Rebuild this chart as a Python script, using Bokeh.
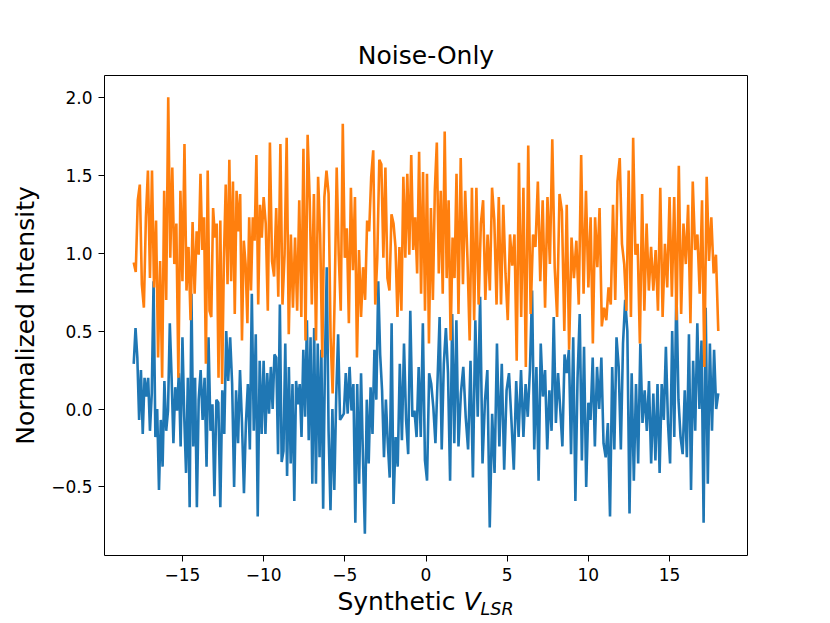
import numpy as np
from bokeh.plotting import figure
from bokeh.models import Range1d, FixedTicker, CustomJSTickFormatter, Div
from bokeh.layouts import column
from bokeh.embed import file_html
from bokeh.resources import INLINE

# ---------------- data ----------------
title_text = "Noise-Only"
x_label_main = "Synthetic"
x_label_var = "V"
x_label_sub = "LSR"
y_label_text = "Normalized Intensity"
x_ticks = [-15, -10, -5, 0, 5, 10, 15]
y_ticks = [-0.5, 0.0, 0.5, 1.0, 1.5, 2.0]

# the velocity axis was read in 9 windows of 4 km/s each
segment_edges = [-18, -14, -10, -6, -2, 2, 6, 10, 14, 18]

# first series (blue), one list per window
blue_w1 = [0.29, 0.52, 0.33, -0.07, 0.25, -0.16, 0.20, 0.08, 0.20, -0.14, 0.10, 0.82,
           -0.18, 0.00, -0.52, -0.07, -0.37, 0.18, -0.14, -0.01, 0.55, 0.20, -0.22,
           0.14, -0.01, 0.23, -0.24, 0.46, -0.05, -0.41, 0.20, -0.63, 0.74, -0.24,
           0.20, -0.63]
blue_w2 = [0.06, 0.25, -0.07, 0.20, -0.37, 0.46, -0.14, 0.03, -0.56, 0.06, 0.04, -0.63,
           0.12, -0.16, 0.50, 0.18, 0.46, 0.16, -0.50, 0.12, -0.22, 0.25, -0.09, -0.54,
           -0.09, 0.16, -0.26, 0.74, -0.14, 0.48, -0.69, 0.31, -0.16]
blue_w3 = [0.31, -0.16, 0.23, -0.03, 0.27, 0.00, 0.35, 0.33, -0.29, 0.67, -0.34, -0.27,
           0.42, -0.43, 0.27, -0.35, 0.16, -0.59, 0.18, 0.03, 0.16, -0.18, 0.38, -0.05,
           0.57, -0.20, 0.46, -0.48, 0.52, -0.48, 0.42, -0.31, 0.38, -0.64, 0.31, 0.91]
blue_w4 = [-0.14, -0.65, 0.00, -0.52, 0.08, 0.48, -0.07, -0.05, -0.03, 0.23, -0.03,
           0.27, -0.01, 0.16, -0.73, 0.16, -0.48, 0.23, -0.31, -0.80, 0.06, -0.35,
           0.14, -0.16, 0.38, 0.06, 0.82, 0.35, 0.12, -0.31, 0.06, -0.22, -0.44, 0.55]
blue_w5 = [-0.61, -0.18, -0.37, 0.29, -0.20, 0.42, -0.07, -0.29, 0.63, -0.05, -0.01,
           -0.18, 0.27, -0.18, 0.55, -0.33, -0.46, 0.23, 0.16, 0.01, -0.22, 0.18, 0.59,
           -0.26, 0.29, 0.52, 0.23, -0.46, 0.61, -0.22, 0.57]
blue_w6 = [-0.24, 0.10, 0.27, -0.05, -0.26, 0.31, -0.44, 0.57, -0.05, 0.72, -0.35,
           0.05, 0.25, -0.76, -0.03, -0.41, 0.42, -0.24, 0.29, -0.39, 0.12, 0.23,
           -0.07, -0.39, 0.18, -0.18, 0.25]
blue_w7 = [-0.18, 0.16, -0.05, 0.25, 0.76, -0.26, 0.27, -0.46, 0.42, 0.08, 0.25, -0.26,
           0.12, -0.14, 0.59, -0.09, 0.23, 0.00, -0.24, 0.35, 0.23, 0.38, -0.29, 0.46,
           -0.59, 0.20, 0.61, -0.33, 0.40, -0.50]
blue_w8 = [0.04, -0.07, 0.33, -0.24, 0.27, 0.00, 0.33, -0.22, -0.31, -0.09, -0.69,
           0.27, -0.26, 0.46, 0.27, -0.26, 0.42, 0.70, 0.50, -0.67, 0.23, -0.46, 0.16,
           -0.35, 0.42, -0.09, 0.12, -0.14, 0.18, -0.35]
blue_w9 = [0.10, -0.33, 0.16, -0.41, 0.16, -0.07, 0.40, -0.09, -0.35, 0.50, -0.18,
           0.78, 0.06, -0.18, -0.29, 0.12, -0.31, 0.48, -0.52, 0.31, -0.14, 0.55, 0.00,
           0.44, -0.73, 0.65, -0.48, 0.42, -0.14, 0.38, 0.00, 0.10]

# second series (orange), one list per window
orange_w1 = [0.94, 0.88, 1.34, 1.44, 0.80, 0.65, 1.23, 1.53, 0.84, 1.53, 0.78, 1.21, 0.33,
             0.95, 0.20, 1.40, 0.70, 2.00, 0.97, 1.55, 0.93, 1.19, 0.20, 1.40, 0.82, 1.70,
             0.76, 1.04, 0.57, 1.20, 0.74, 1.14]
orange_w2 = [0.99, 1.51, 1.02, 1.23, 0.29, 1.53, 0.63, 0.59, 1.29, 1.10, 1.19, 0.20, 1.21,
             0.16, 0.97, 1.44, 0.80, 1.60, 0.82, 1.46, 0.61, 1.40, 1.14, 1.38, 0.44, 1.08,
             0.93, 0.55, 1.23, 0.76, 1.23, 1.08, 1.63, 0.67, 1.31, 1.10]
orange_w3 = [1.36, 1.19, 0.63, 1.71, 0.95, 0.85, 1.29, 0.72, 1.70, 0.67, 0.99, 1.74, 0.48,
             1.12, 0.65, 1.10, 0.63, 1.34, 0.59, 1.67, 0.44, 1.76, 1.34, 0.67, 1.38, 0.44,
             1.49, 1.12, 0.33, 1.36, 1.53]
orange_w4 = [1.38, 0.46, 0.10, 0.72, 1.55, 0.99, 0.63, 1.83, 0.97, 1.16, 0.55, 1.42, 0.89,
             1.36, 0.33, 1.02, 0.59, 0.91, 0.70, 1.21, 1.14, 1.49, 1.66, 0.67, 0.97, 1.60,
             1.57, 0.97, 1.55, 0.84, 0.76, 1.25]
orange_w5 = [1.19, 1.04, 0.59, 1.04, 0.63, 1.49, 0.97, 1.51, 0.99, 1.63, 1.02, 1.23, 0.87,
             1.65, 0.74, 1.52, 0.63, 1.51, 0.42, 1.29, 0.70, 1.41, 1.71, 0.87, 1.40, 0.74,
             1.78, 0.84, 1.34, 0.44, 1.10, 0.84, 1.51]
orange_w6 = [0.61, 1.61, 0.80, 1.40, 0.97, 0.44, 1.42, 0.57, 1.42, 0.67, 1.19, 1.34, 0.70,
             1.12, 0.76, 1.42, 1.21, 0.67, 1.36, 0.67, 1.31, 0.87, 0.57, 1.12, 0.92, 1.12,
             0.31, 1.58, 0.59]
orange_w7 = [1.42, 0.27, 1.69, 0.61, 1.12, 1.04, 1.46, 0.82, 1.34, 0.65, 1.36, 0.93, 1.73,
             0.91, 0.59, 1.38, 1.27, 0.50, 1.31, 0.38, 1.10, 0.84, 1.08, 0.67, 1.63, 0.74,
             1.40]
orange_w8 = [0.78, 1.23, 0.42, 1.23, 0.91, 1.29, 0.53, 0.65, 0.57, 0.78, 0.67, 1.31, 0.70,
             1.46, 1.61, 1.06, 0.93, 0.63, 1.53, 0.59, 1.74, 0.99, 1.06, 0.42, 1.38, 0.63,
             1.19, 0.76, 1.04]
orange_w9 = [0.76, 1.02, 0.63, 1.42, 0.59, 1.06, 0.78, 1.36, 0.72, 1.36, 0.57, 1.56, 0.61,
             1.19, 0.93, 1.31, 0.55, 1.46, 1.02, 1.12, 0.74, 1.34, 0.27, 1.49, 0.95, 1.23,
             0.87, 0.99, 0.50]

blue_windows = [blue_w1, blue_w2, blue_w3, blue_w4, blue_w5, blue_w6, blue_w7, blue_w8, blue_w9]
orange_windows = [orange_w1, orange_w2, orange_w3, orange_w4, orange_w5, orange_w6,
                  orange_w7, orange_w8, orange_w9]


def assemble(windows):
    """Place each window's channels evenly inside its velocity window."""
    xs, ys = [], []
    last = len(windows) - 1
    for k, vals in enumerate(windows):
        lo, hi = segment_edges[k], segment_edges[k + 1]
        xs.append(np.linspace(lo, hi, len(vals), endpoint=(k == last)))
        ys.extend(vals)
    return np.concatenate(xs), np.array(ys)


x_blue, y_blue = assemble(blue_windows)
x_orange, y_orange = assemble(orange_windows)

# ---------------- ranges (matplotlib-like 5% margins) ----------------
v_start, v_end = segment_edges[0], segment_edges[-1]
xspan = v_end - v_start
all_y = np.concatenate([y_blue, y_orange])
ylo, yhi = float(all_y.min()), float(all_y.max())
yspan = yhi - ylo

FONT = "DejaVu Sans"
FW, FH = 643, 480
LEFT, RIGHT, TOP = 104, 83, 75
FIG_H = 590
TOTAL_W = LEFT + FW + RIGHT

p = figure(
    frame_width=FW, frame_height=FH,
    min_border_left=LEFT, min_border_right=RIGHT,
    min_border_top=TOP, min_border_bottom=FIG_H - TOP - FH,
    x_range=Range1d(v_start - 0.05 * xspan, v_end + 0.05 * xspan),
    y_range=Range1d(ylo - 0.05 * yspan, yhi + 0.05 * yspan),
    output_backend="svg", toolbar_location=None,
    title=title_text,
)
p.background_fill_color = "white"
p.border_fill_color = "white"
p.outline_line_color = "black"
p.outline_line_width = 1
p.outline_line_alpha = 1.0
p.grid.visible = False

p.title.align = "center"
p.title.text_font = FONT
p.title.text_font_size = "25px"
p.title.text_font_style = "normal"
p.title.text_color = "black"
p.title.standoff = 11

p.line(x_blue, y_blue, line_color="#1f77b4", line_width=2.6)
p.line(x_orange, y_orange, line_color="#ff7f0e", line_width=2.6)

p.xaxis.ticker = FixedTicker(ticks=x_ticks)
p.yaxis.ticker = FixedTicker(ticks=y_ticks)
p.xaxis.formatter = CustomJSTickFormatter(
    code="return (tick < 0 ? '\u2212' : '') + Math.abs(tick).toFixed(0);")
p.yaxis.formatter = CustomJSTickFormatter(
    code="return (tick < 0 ? '\u2212' : '') + Math.abs(tick).toFixed(1);")

for ax in (p.xaxis[0], p.yaxis[0]):
    ax.axis_line_color = None
    ax.major_tick_line_color = "black"
    ax.major_tick_line_width = 1
    ax.major_tick_out = 6
    ax.major_tick_in = 0
    ax.minor_tick_line_color = None
    ax.major_label_text_font = FONT
    ax.major_label_text_font_size = "17px"
    ax.major_label_text_color = "black"
    ax.major_label_standoff = 6

p.yaxis.axis_label = y_label_text
p.yaxis.axis_label_text_font = FONT
p.yaxis.axis_label_text_font_size = "25px"
p.yaxis.axis_label_text_font_style = "normal"
p.yaxis.axis_label_text_color = "black"
p.yaxis.axis_label_standoff = 8

# x-axis label (italic variable with subscript) as real HTML text below the plot
center_x = LEFT + FW / 2.0
pad_left = int(round(2 * center_x - TOTAL_W))
xlabel_html = (
    f'<div style="box-sizing:border-box;width:{TOTAL_W}px;padding-left:{pad_left}px;'
    f'text-align:center;font-family:\'{FONT}\';font-size:25px;line-height:23px;'
    f'color:black;white-space:nowrap;">'
    f'{x_label_main} <span style="font-style:italic;">{x_label_var}</span>'
    f'<span style="font-style:italic;font-size:17.5px;position:relative;top:5px;">'
    f'{x_label_sub}</span></div>'
)
xlabel_div = Div(text=xlabel_html, width=TOTAL_W, height=623 - FIG_H, margin=0)

layout = column(p, xlabel_div, spacing=0)

open("out.html", "w").write(file_html(layout, INLINE))
